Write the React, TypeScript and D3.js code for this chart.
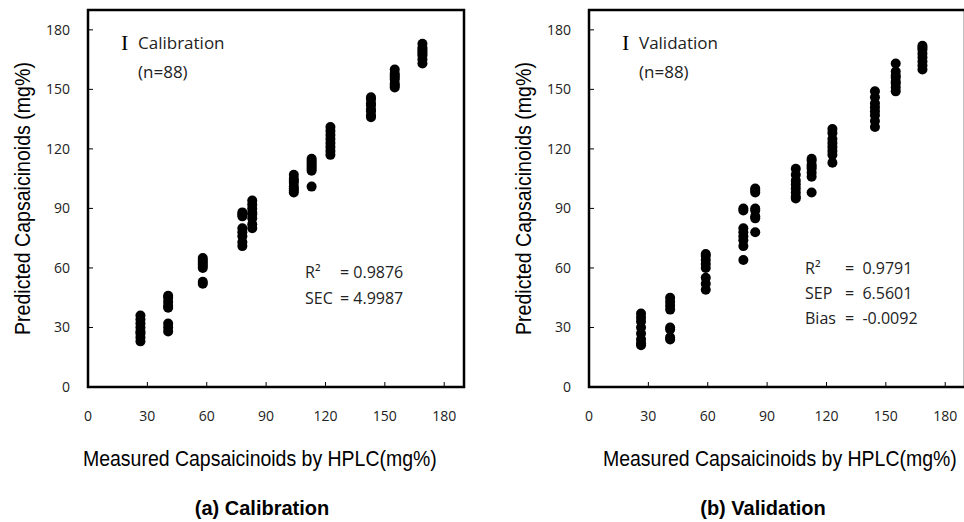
import { useRef, useEffect } from 'react';
import * as d3 from 'd3';

// measured (HPLC) levels, one per sample group
const calX = [26.5, 40.5, 58, 78, 83, 104, 113, 122.5, 143, 155, 169];
const calY = [
    [23, 25, 27, 28, 30, 32, 34, 36],
    [28, 30, 32, 40, 41, 43, 45, 46],
    [52, 53, 60, 61, 62, 63, 64, 65],
    [71, 73, 76, 78, 80, 86, 87, 88],
    [80, 82, 85, 87, 88, 90, 92, 94],
    [98, 99, 100, 101, 103, 104, 105, 107],
    [101, 109, 110, 111, 112, 113, 114, 115],
    [117, 119, 121, 123, 125, 127, 129, 131],
    [136, 137, 139, 140, 142, 143, 145, 146],
    [151, 152, 153, 155, 156, 157, 158, 160],
    [163, 165, 167, 168, 169, 170, 171, 173],
];
const valX = [26.3, 41, 59, 78, 84, 104.5, 112.5, 123, 144.5, 155, 168.5];
const valY = [
    [21, 22, 24, 27, 30, 33, 35, 37],
    [24, 25, 29, 30, 39, 41, 43, 45],
    [49, 52, 55, 60, 62, 64, 66, 67],
    [64, 71, 74, 76, 78, 80, 89, 90],
    [78, 85, 86, 89, 90, 98, 99, 100],
    [95, 96, 98, 100, 102, 104, 107, 110],
    [98, 106, 108, 110, 111, 112, 114, 115],
    [113, 117, 119, 121, 123, 125, 128, 130],
    [131, 134, 137, 139, 141, 143, 146, 149],
    [149, 151, 153, 154, 156, 157, 159, 163],
    [160, 162, 164, 166, 168, 170, 171, 172],
];
const ticks = [0, 30, 60, 90, 120, 150, 180];
const calStats = [['R²', '= 0.9876'], ['SEC', '= 4.9987']];
const valStats = [['R²', '=  0.9791'], ['SEP', '=  6.5601'], ['Bias', '=  -0.0092']];

const tickFont = '"Open Sans", sans-serif';
const narrow = '"Liberation Sans Narrow", "Arial Narrow", "Liberation Sans", sans-serif';

const App = () => {
    const svgRef = useRef(null);

    useEffect(() => {
        const svg = d3.select(svgRef.current);
        svg.selectAll('*').remove();

        // squeeze a text horizontally to a given width (condensed look)
        const fitText = (sel, tx, ty, width, rot) => {
            const len = sel.node().getComputedTextLength() || width;
            const k = Math.min(1, width / len);
            sel.attr('transform', `translate(${tx},${ty})${rot ? ' rotate(-90)' : ''} scale(${k},1)`);
        };

        const drawPanel = (left, xs, ys, name, stats, statX, statY, statGap, eqX, labelX, title) => {
            const x = d3.scaleLinear().domain([0, 190]).range([left, left + 376]);
            const y = d3.scaleLinear().domain([0, 190]).range([387, 10]);
            const g = svg.append('g');

            // frame
            g.append('rect')
                .attr('x', x(0)).attr('y', y(190))
                .attr('width', x(190) - x(0)).attr('height', y(0) - y(190))
                .attr('fill', 'none').attr('stroke', '#000').attr('stroke-width', 2.5);

            // inward ticks
            g.selectAll('.xt').data(ticks.slice(1)).enter().append('line')
                .attr('x1', d => x(d)).attr('x2', d => x(d))
                .attr('y1', y(0)).attr('y2', y(0) - 5)
                .attr('stroke', '#000').attr('stroke-width', 1);
            g.selectAll('.yt').data(ticks.slice(1)).enter().append('line')
                .attr('x1', x(0)).attr('x2', x(0) + 5)
                .attr('y1', d => y(d)).attr('y2', d => y(d))
                .attr('stroke', '#000').attr('stroke-width', 1);

            g.selectAll('.xl').data(ticks).enter().append('text')
                .attr('x', d => x(d)).attr('y', 421)
                .attr('text-anchor', 'middle')
                .attr('font-family', tickFont).attr('font-size', 14).attr('fill', '#222')
                .text(d => d);
            g.selectAll('.yl').data(ticks).enter().append('text')
                .attr('x', x(0) - 18).attr('y', d => y(d) + 5)
                .attr('text-anchor', 'end')
                .attr('font-family', tickFont).attr('font-size', 14).attr('fill', '#222')
                .text(d => d);

            // axis titles
            const xt = g.append('text')
                .attr('font-family', narrow).attr('font-size', 22)
                .text('Measured Capsaicinoids by HPLC(mg%)');
            fitText(xt, labelX, 466, 354, false);
            const yt = g.append('text')
                .attr('font-family', narrow).attr('font-size', 22)
                .text('Predicted Capsaicinoids (mg%)');
            fitText(yt, x(0) - 58, 335, 273, true);

            // panel caption
            g.append('text')
                .attr('x', x(0) + 174).attr('y', 515)
                .attr('text-anchor', 'middle')
                .attr('font-family', '"Liberation Sans", Arial, sans-serif')
                .attr('font-weight', 'bold').attr('font-size', 20)
                .text(title);

            // labels inside frame
            g.append('text')
                .attr('x', x(0) + 33).attr('y', 50)
                .attr('font-family', '"Liberation Serif", serif').attr('font-size', 22)
                .text('I');
            g.append('text')
                .attr('x', x(0) + 50).attr('y', 49)
                .attr('font-family', tickFont).attr('font-size', 17).attr('fill', '#222')
                .text(name);
            g.append('text')
                .attr('x', x(0) + 50).attr('y', 78)
                .attr('font-family', tickFont).attr('font-size', 17).attr('fill', '#222')
                .text('(n=88)');

            stats.forEach((s, i) => {
                g.append('text')
                    .attr('x', statX).attr('y', statY + i * statGap)
                    .attr('font-family', tickFont).attr('font-size', 16).attr('fill', '#222')
                    .text(s[0]);
                g.append('text')
                    .attr('x', eqX).attr('y', statY + i * statGap)
                    .attr('font-family', tickFont).attr('font-size', 16).attr('fill', '#222')
                    .attr('xml:space', 'preserve').style('white-space', 'pre')
                    .text(s[1]);
            });

            // points
            const pts = xs.flatMap((v, i) => ys[i].map(p => [v, p]));
            g.selectAll('circle').data(pts).enter().append('circle')
                .attr('cx', d => x(d[0])).attr('cy', d => y(d[1]))
                .attr('r', 5).attr('fill', '#000');
        };

        drawPanel(88, calX, calY, 'Calibration', calStats, 305, 278, 26, 340, 83, '(a) Calibration');
        drawPanel(589, valX, valY, 'Validation', valStats, 805, 274, 25, 845, 603, '(b) Validation');
    }, []);

    return (
        <svg ref={svgRef} width={964} height={522}
            style={{ position: 'absolute', left: 0, top: 0, background: '#fff' }} />
    );
};

export default App;
